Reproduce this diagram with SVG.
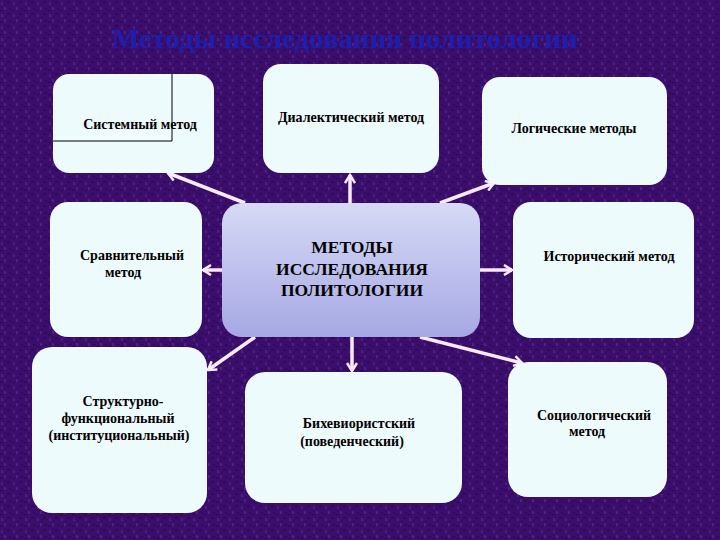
<svg xmlns="http://www.w3.org/2000/svg" width="720" height="540" viewBox="0 0 720 540">
<defs>
<pattern id="tex" width="12" height="12" patternUnits="userSpaceOnUse">
<rect width="12" height="12" fill="#3c0e6c"/>
<rect x="1" y="2" width="2" height="3" fill="#4c1d82"/>
<rect x="7" y="1" width="3" height="2" fill="#2e0958"/>
<rect x="4" y="7" width="2" height="3" fill="#50208a"/>
<rect x="9" y="8" width="2" height="2" fill="#2f0a5a"/>
<rect x="0" y="10" width="3" height="1" fill="#2c0854"/>
<rect x="5" y="4" width="1" height="2" fill="#30095a"/>
</pattern>
<linearGradient id="cg" x1="0" y1="0" x2="0" y2="1">
<stop offset="0" stop-color="#d6daf5"/>
<stop offset="1" stop-color="#a6a8e4"/>
</linearGradient>
<marker id="ah" viewBox="0 0 12 12" refX="10" refY="6" markerWidth="12" markerHeight="12" markerUnits="userSpaceOnUse" orient="auto">
<polyline points="2,1 10,6 2,11" fill="none" stroke="#f8eaf8" stroke-width="2.5"/>
</marker>
<style>
.box{fill:#eefbfd}
.t{font-family:"Liberation Serif","Times New Roman",serif;font-size:14px;font-weight:bold;fill:#000;text-anchor:middle}
.c{font-family:"Liberation Serif","Times New Roman",serif;font-size:17.5px;font-weight:bold;fill:#000;text-anchor:middle}
.ar{stroke:#f8eaf8;stroke-width:3.5;fill:none;marker-end:url(#ah)}
</style>
</defs>
<rect width="720" height="540" fill="url(#tex)"/>
<text x="345" y="48" font-family="'Liberation Serif','Times New Roman',serif" font-size="27" font-weight="bold" fill="#1e1eaa" text-anchor="middle" textLength="466" lengthAdjust="spacingAndGlyphs">Методы исследования политологии</text>

<g id="connectors">
<line class="ar" x1="245" y1="203" x2="168" y2="173"/>
<line class="ar" x1="350" y1="203" x2="350" y2="175"/>
<line class="ar" x1="440" y1="203" x2="494" y2="183"/>
<line class="ar" x1="222" y1="270" x2="203" y2="270"/>
<line class="ar" x1="480" y1="270" x2="512" y2="270"/>
<line class="ar" x1="255" y1="337" x2="208" y2="370"/>
<line class="ar" x1="352" y1="337" x2="352" y2="371"/>
<line class="ar" x1="420" y1="337" x2="522" y2="363"/>
</g>

<g id="center">
<rect x="222" y="203" width="258" height="134" rx="20" fill="url(#cg)"/>
<text class="c" x="352" y="253">МЕТОДЫ</text>
<text class="c" x="352" y="275">ИССЛЕДОВАНИЯ</text>
<text class="c" x="352" y="296">ПОЛИТОЛОГИИ</text>
</g>

<g id="systemny">
<rect class="box" x="53" y="74" width="161" height="99" rx="16"/>
<polyline points="172,74 172,141 53,141" fill="none" stroke="#000" stroke-width="1"/>
<text class="t" x="140" y="129">Системный метод</text>
</g>

<g id="dialekt">
<rect class="box" x="263" y="64" width="176" height="109" rx="18"/>
<text class="t" x="351" y="122">Диалектический метод</text>
</g>

<g id="logich">
<rect class="box" x="482" y="77" width="185" height="108" rx="18"/>
<text class="t" x="574" y="133">Логические методы</text>
</g>

<g id="sravn">
<rect class="box" x="50" y="202" width="152" height="135" rx="18"/>
<text class="t" x="132" y="260">Сравнительный</text>
<text class="t" x="123" y="277">метод</text>
</g>

<g id="istor">
<rect class="box" x="513" y="202" width="181" height="136" rx="18"/>
<text class="t" x="609" y="261">Исторический метод</text>
</g>

<g id="struct">
<rect class="box" x="32" y="347" width="175" height="166" rx="20"/>
<text class="t" x="123" y="406">Структурно-</text>
<text class="t" x="118" y="423">функциональный</text>
<text class="t" x="119" y="440">(институциональный)</text>
</g>

<g id="bihev">
<rect class="box" x="245" y="372" width="217" height="131" rx="20"/>
<text class="t" x="359" y="428">Бихевиористский</text>
<text class="t" x="352" y="446">(поведенческий)</text>
</g>

<g id="sociol">
<rect class="box" x="508" y="362" width="159" height="135" rx="20"/>
<text class="t" x="594" y="420">Социологический</text>
<text class="t" x="587" y="436">метод</text>
</g>
</svg>
